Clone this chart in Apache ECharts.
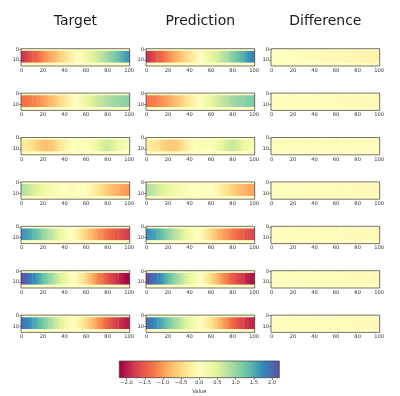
<!DOCTYPE html>
<html><head><meta charset="utf-8">
<script src="https://cdn.jsdelivr.net/npm/echarts@6/dist/echarts.min.js"></script>
<style>html,body{margin:0;padding:0;background:#fff}#c{width:400px;height:396px}</style>
</head><body><div id="c"></div>
<script>
// ---- data ----
const columnTitles = ['Target', 'Prediction', 'Difference'];
const xPositions = [0,5,10,15,20,25,30,35,40,45,50,55,60,65,70,75,80,85,90,95,100];
const rowCount = 16;          // image rows 0..15
const bandFirstRow = 2;       // rows carrying the profile
const bandLastRow = 12;
const padValue = 0;           // rows outside the band
const xTickValues = [0,20,40,60,80,100];
const yTickValues = [0,10];
const colorbarTicks = [-2,-1.5,-1,-0.5,0,0.5,1,1.5,2];
const valueRange = [-2.2, 2.2];

const target1 = [-1.85,-1.70,-1.52,-1.35,-1.15,-0.98,-0.80,-0.62,-0.45,-0.25,-0.08,0.10,0.28,0.45,0.62,0.80,0.98,1.15,1.35,1.52,1.70];
const target2 = [-1.30,-1.28,-1.20,-1.10,-1.00,-0.85,-0.70,-0.52,-0.35,-0.18,0.00,0.18,0.35,0.50,0.65,0.76,0.86,0.94,1.00,1.05,1.08];
const target3 = [-0.30,-0.35,-0.45,-0.60,-0.70,-0.72,-0.60,-0.40,-0.20,-0.05,0.05,0.08,0.05,0.15,0.35,0.55,0.62,0.50,0.30,0.15,0.08];
const target4 = [0.85,0.72,0.58,0.45,0.32,0.22,0.15,0.08,0.00,-0.06,-0.02,0.02,-0.05,-0.18,-0.35,-0.50,-0.65,-0.78,-0.90,-0.98,-1.05];
const target5 = [1.70,1.58,1.45,1.25,1.02,0.82,0.62,0.40,0.18,0.02,-0.12,-0.35,-0.58,-0.80,-1.00,-1.15,-1.30,-1.45,-1.58,-1.68,-1.78];
const target6 = [2.15,2.00,1.82,1.58,1.33,1.08,0.82,0.58,0.35,0.12,-0.05,-0.28,-0.55,-0.82,-1.10,-1.33,-1.55,-1.75,-1.92,-2.08,-2.20];
const target7 = [1.90,1.80,1.62,1.42,1.20,0.98,0.75,0.52,0.30,0.10,-0.05,-0.25,-0.48,-0.72,-0.98,-1.22,-1.45,-1.65,-1.82,-1.95,-2.05];

const difference1 = [0.02,0.01,0.00,-0.01,-0.02,-0.03,-0.04,-0.05,-0.06,-0.07,-0.08,-0.09,-0.10,-0.11,-0.12,-0.13,-0.14,-0.15,-0.15,-0.16,-0.16];
const difference2 = [-0.05,-0.05,-0.04,-0.04,-0.05,-0.05,-0.04,-0.04,-0.05,-0.05,-0.06,-0.06,-0.06,-0.07,-0.07,-0.07,-0.08,-0.08,-0.08,-0.09,-0.09];
const difference3 = [-0.04,-0.04,-0.05,-0.05,-0.06,-0.06,-0.05,-0.05,-0.04,-0.04,-0.04,-0.05,-0.05,-0.05,-0.05,-0.06,-0.06,-0.06,-0.06,-0.05,-0.05];
const difference4 = [-0.02,-0.02,-0.03,-0.03,-0.03,-0.04,-0.04,-0.04,-0.05,-0.05,-0.05,-0.05,-0.06,-0.06,-0.06,-0.06,-0.07,-0.07,-0.07,-0.08,-0.08];
const difference5 = [-0.02,-0.02,-0.03,-0.03,-0.03,-0.04,-0.04,-0.04,-0.05,-0.05,-0.05,-0.06,-0.06,-0.06,-0.07,-0.07,-0.07,-0.08,-0.08,-0.08,-0.09];
const difference6 = [-0.03,-0.03,-0.03,-0.04,-0.04,-0.04,-0.05,-0.05,-0.05,-0.05,-0.06,-0.06,-0.06,-0.06,-0.07,-0.07,-0.07,-0.07,-0.08,-0.08,-0.08];
const difference7 = [-0.03,-0.03,-0.03,-0.03,-0.04,-0.04,-0.04,-0.04,-0.05,-0.05,-0.05,-0.05,-0.06,-0.06,-0.06,-0.06,-0.07,-0.07,-0.07,-0.07,-0.08];

const targets = [target1,target2,target3,target4,target5,target6,target7];
const differences = [difference1,difference2,difference3,difference4,difference5,difference6,difference7];
const predictions = targets.map((t, r) => t.map((v, i) => +(v - differences[r][i]).toFixed(3)));

// Spectral colormap
const spectral = ['#9e0142','#d53e4f','#f46d43','#fdae61','#fee08b','#ffffbf','#e6f598','#abdda4','#66c2a5','#3288bd','#5e4fa2'];
function hex2rgb(h){return [parseInt(h.slice(1,3),16),parseInt(h.slice(3,5),16),parseInt(h.slice(5,7),16)];}
const spectralRGB = spectral.map(hex2rgb);
function colorOf(v){
  let t = (v - valueRange[0]) / (valueRange[1] - valueRange[0]);
  t = Math.max(0, Math.min(1, t));
  const f = t * (spectral.length - 1);
  const i = Math.min(spectral.length - 2, Math.floor(f));
  const u = f - i;
  const a = spectralRGB[i], b = spectralRGB[i+1];
  return 'rgb(' + a.map((c,k)=>Math.round(c + (b[k]-c)*u)).join(',') + ')';
}

// ---- layout ----
const colLeft = [21, 146, 271];
const panelW = 108.7, panelH = 17.3;
const rowTop0 = 48.7, rowStep = 44.4;
const font = 'DejaVu Sans';
const tickColor = '#333';
const labelSize = 5.2;
const xFirst = xPositions[0], xLast = xPositions[xPositions.length - 1];

const grids = [], xAxes = [], yAxes = [], series = [];

// item: [x0, x1, rowStart, rowEnd, v0, v1] — a strip between two sampled columns,
// shaded smoothly between the two sampled values (like imshow's smoothing)
function stripRender(params, api){
  const x0 = api.value(0), x1 = api.value(1), r0 = api.value(2), r1 = api.value(3);
  const v0 = api.value(4), v1 = api.value(5);
  const xa = x0 === xFirst ? x0 - 0.5 : x0;
  const xb = x1 === xLast ? x1 + 0.5 : x1;
  const p0 = api.coord([xa, r0 - 0.5]);
  const p1 = api.coord([xb, r1 + 0.5]);
  const cs = params.coordSys;
  const rect = echarts.graphic.clipRectByRect({
    x: Math.min(p0[0], p1[0]), y: Math.min(p0[1], p1[1]),
    width: Math.abs(p1[0] - p0[0]) + (x1 === xLast ? 0 : 0.35), height: Math.abs(p1[1] - p0[1])
  }, {x: cs.x, y: cs.y, width: cs.width, height: cs.height});
  if (!rect) return;
  const span = xb - xa;
  const stops = [];
  const o0 = (x0 - xa) / span, o1 = (x1 - xa) / span;
  if (o0 > 0) stops.push({offset: 0, color: colorOf(v0)});
  for (let k = 0; k <= 4; k++) {
    stops.push({offset: o0 + (o1 - o0) * k / 4, color: colorOf(v0 + (v1 - v0) * k / 4)});
  }
  if (o1 < 1) stops.push({offset: 1, color: colorOf(v1)});
  return {type: 'rect', shape: rect, style: {fill: new echarts.graphic.LinearGradient(0, 0, 1, 0, stops)}};
}

for (let r = 0; r < 7; r++) {
  const panels = [targets[r], predictions[r], differences[r]];
  for (let c = 0; c < 3; c++) {
    const gi = r * 3 + c;
    grids.push({left: colLeft[c], top: rowTop0 + r * rowStep, width: panelW, height: panelH,
      show: true, borderColor: '#3a3a3a', borderWidth: 0.7, backgroundColor: 'transparent', z: 5});
    xAxes.push({gridIndex: gi, type: 'value', min: -0.5, max: 100.5,
      axisLine: {show: false}, splitLine: {show: false},
      axisTick: {show: true, length: 2.2, customValues: xTickValues, lineStyle: {color: tickColor, width: 0.6}},
      axisLabel: {customValues: xTickValues, fontSize: labelSize, color: tickColor, margin: 2, fontFamily: font}});
    yAxes.push({gridIndex: gi, type: 'value', inverse: true, min: -0.5, max: rowCount - 0.5,
      axisLine: {show: false}, splitLine: {show: false},
      axisTick: {show: true, length: 2.2, customValues: yTickValues, lineStyle: {color: tickColor, width: 0.6}},
      axisLabel: {customValues: yTickValues, fontSize: labelSize, color: tickColor, margin: 2, fontFamily: font}});
    const vals = panels[c];
    const data = [];
    for (let i = 0; i < xPositions.length - 1; i++) {
      data.push([xPositions[i], xPositions[i+1], 0, bandFirstRow - 1, padValue, padValue]);
      data.push([xPositions[i], xPositions[i+1], bandFirstRow, bandLastRow, vals[i], vals[i+1]]);
      data.push([xPositions[i], xPositions[i+1], bandLastRow + 1, rowCount - 1, padValue, padValue]);
    }
    series.push({type: 'custom', xAxisIndex: gi, yAxisIndex: gi, renderItem: stripRender, data: data, z: 2, silent: true});
  }
}

// colorbar
const cbi = grids.length;
grids.push({left: 119.3, top: 361, width: 160, height: 16.7, show: true, borderColor: '#3a3a3a', borderWidth: 0.7, backgroundColor: 'transparent', z: 5});
xAxes.push({gridIndex: cbi, type: 'value', min: valueRange[0], max: valueRange[1],
  axisLine: {show: false}, splitLine: {show: false},
  axisTick: {show: true, length: 2.2, customValues: colorbarTicks, lineStyle: {color: tickColor, width: 0.6}},
  axisLabel: {customValues: colorbarTicks, fontSize: labelSize, color: tickColor, margin: 2, fontFamily: font,
    formatter: v => v.toFixed(1).replace('-', '\u2212')},
  name: 'Value', nameLocation: 'middle', nameGap: 11, nameTextStyle: {fontSize: labelSize, color: tickColor, fontFamily: font}});
yAxes.push({gridIndex: cbi, type: 'value', min: 0, max: 1, show: false});
const cbStops = spectral.map((col, i) => ({offset: i / (spectral.length - 1), color: col}));
series.push({type: 'custom', xAxisIndex: cbi, yAxisIndex: cbi, silent: true, z: 2,
  data: [[valueRange[0], valueRange[1]]],
  renderItem: (params, api) => {
    const p0 = api.coord([api.value(0), 0]);
    const p1 = api.coord([api.value(1), 1]);
    return {type: 'rect', shape: {x: p0[0], y: p1[1], width: p1[0] - p0[0], height: p0[1] - p1[1]},
      style: {fill: new echarts.graphic.LinearGradient(0, 0, 1, 0, cbStops)}};
  }});

const chart = echarts.init(document.getElementById('c'), null, {renderer: 'canvas'});
chart.setOption({
  animation: false,
  backgroundColor: '#fff',
  graphic: columnTitles.map((t, i) => ({type: 'text', x: colLeft[i] + panelW / 2, y: 21.5,
    style: {text: t, fontSize: 14, fontFamily: font, fill: '#1a1a1a', align: 'center', verticalAlign: 'middle'}})),
  grid: grids, xAxis: xAxes, yAxis: yAxes, series: series
});
</script></body></html>
